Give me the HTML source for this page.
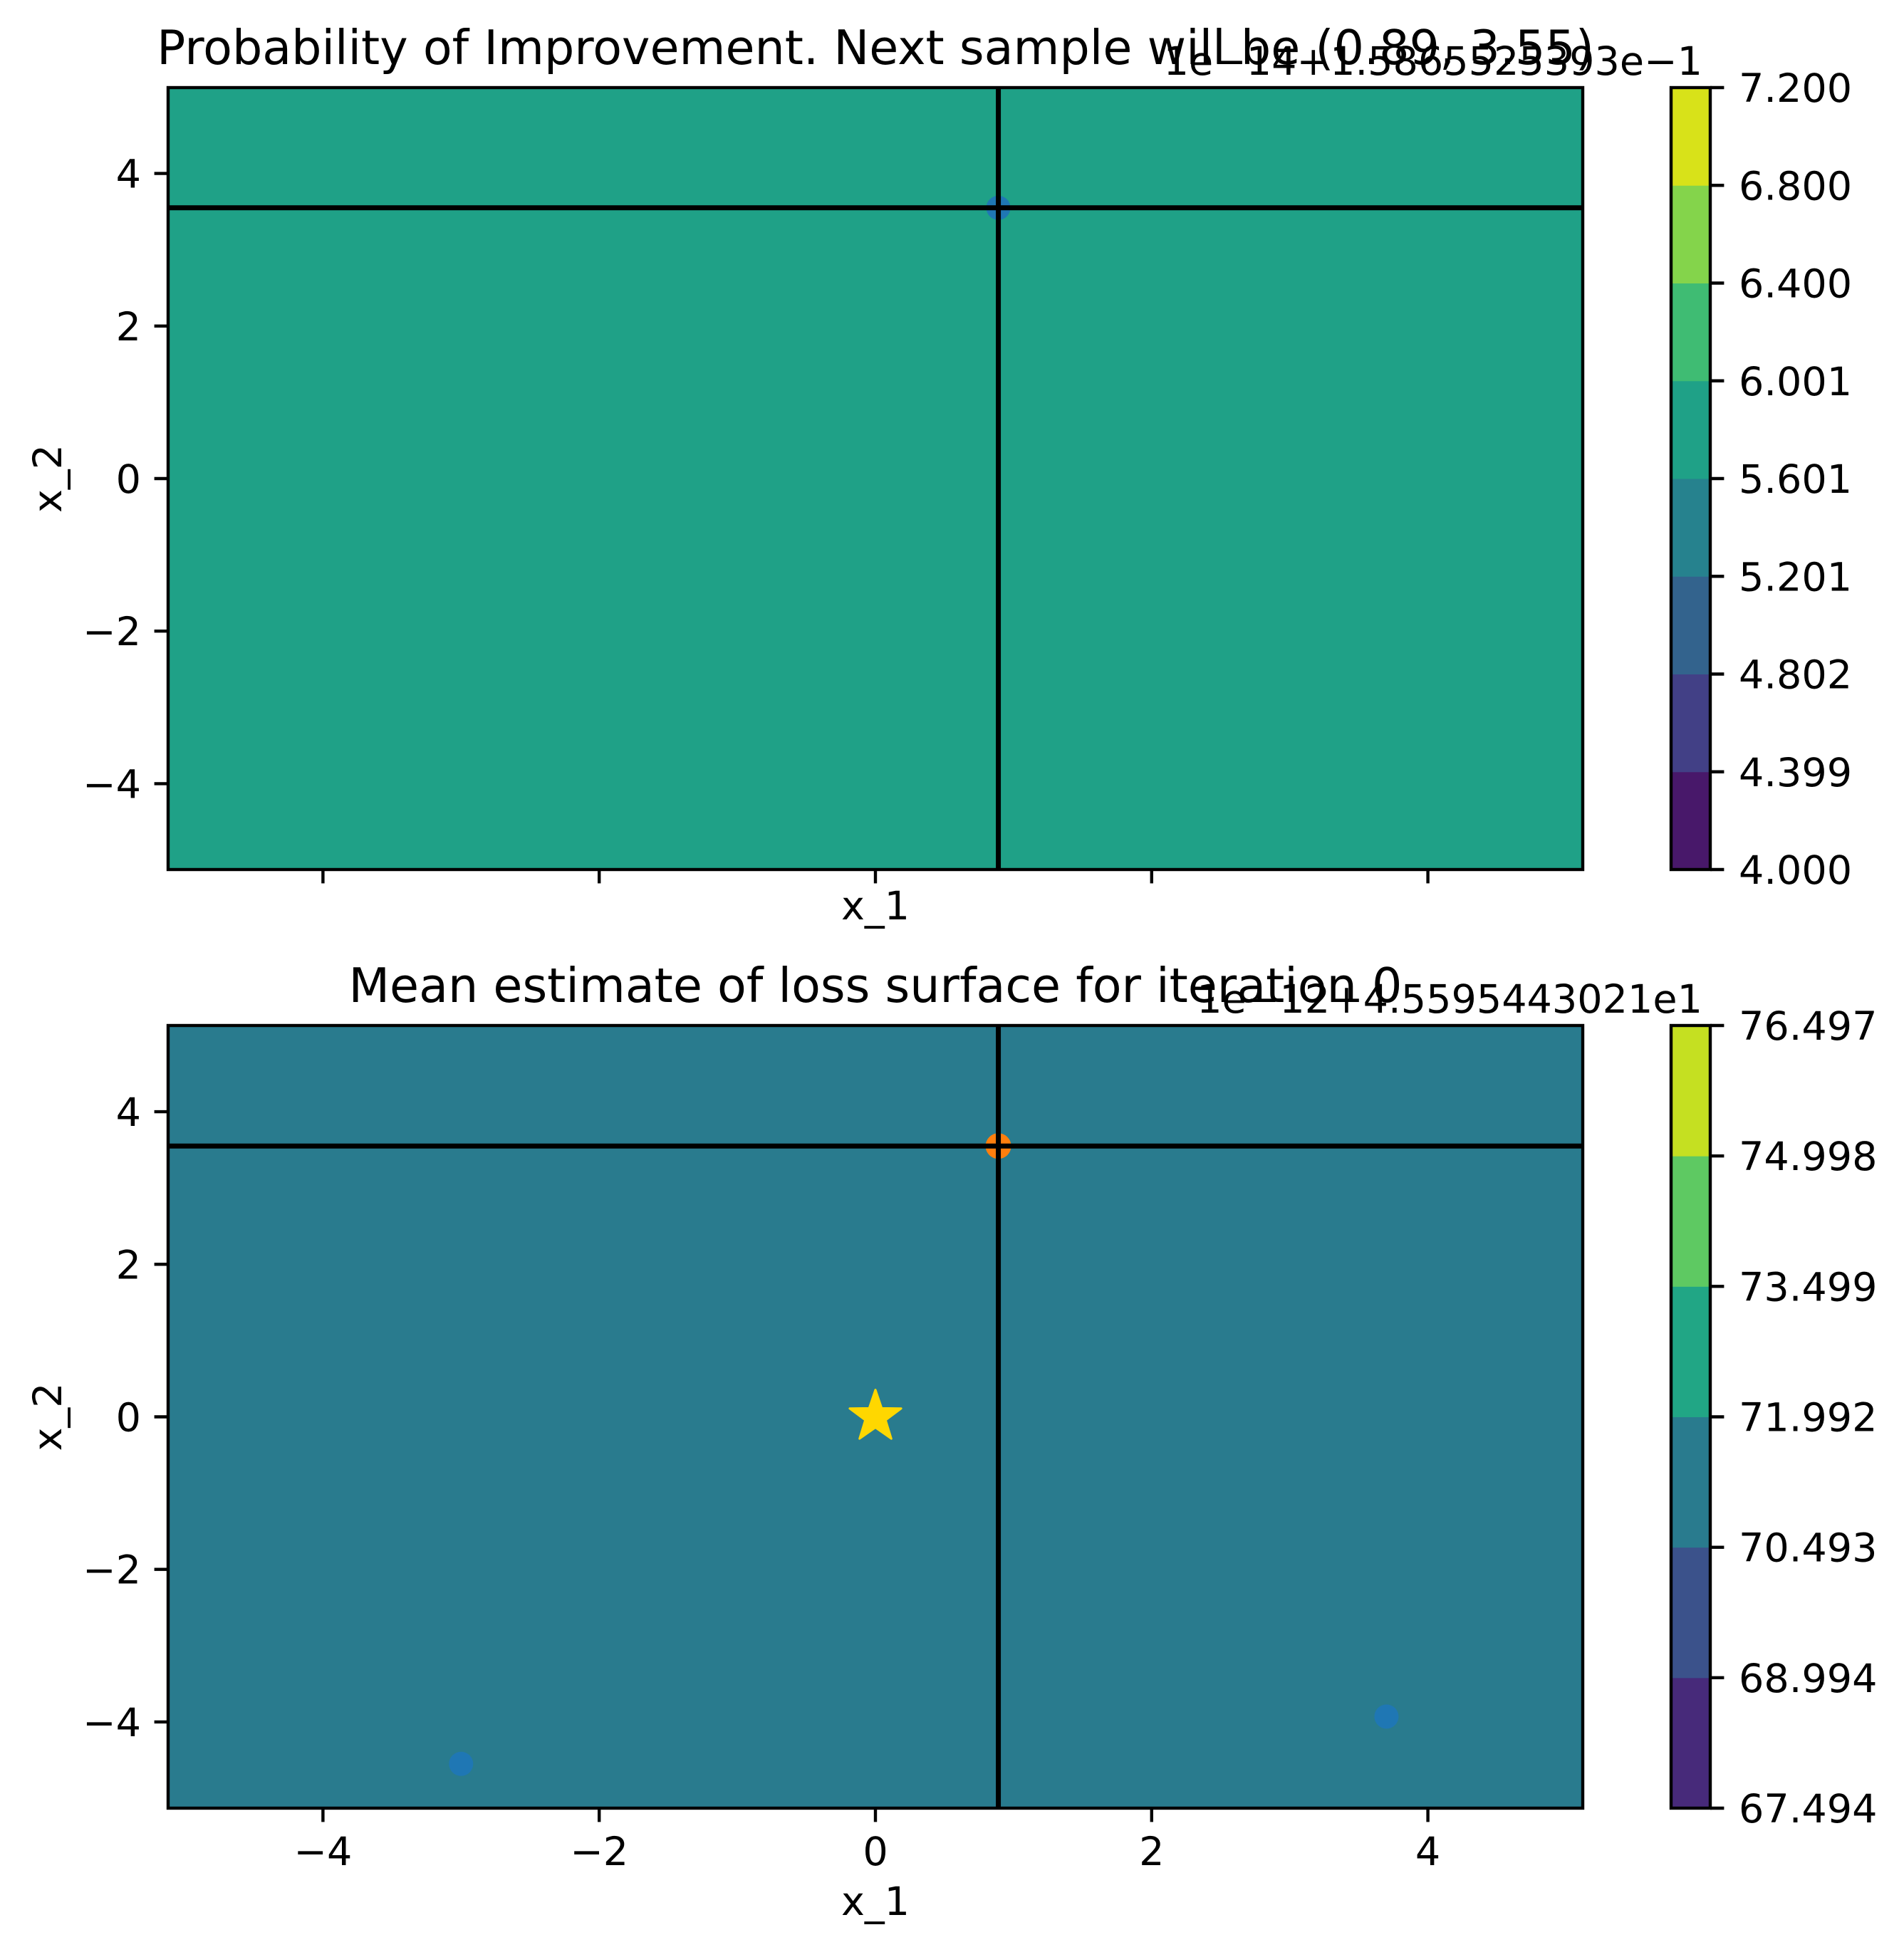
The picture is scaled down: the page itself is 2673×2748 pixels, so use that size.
<!DOCTYPE html>
<html><head><meta charset="utf-8"><style>
html,body{margin:0;padding:0;background:#fff;}
svg{display:block;font-family:"DejaVu Sans","Liberation Sans",sans-serif;}
</style></head><body>
<svg id="fig" width="2673" height="2748" viewBox="0 0 2673 2748" xmlns="http://www.w3.org/2000/svg"></svg>
<script>
const xTicks=[-4,-2,0,2,4];
const yTicks=[-4,-2,0,2,4];
const topLevels=["4.000","4.399","4.802","5.201","5.601","6.001","6.400","6.800","7.200"];
const topColors=["#48186a","#424086","#33638d","#26828e","#1fa187","#3fbc73","#84d44b","#d8e219"];
const topFillBand=4;
const botLevels=["67.494","68.994","70.493","71.992","73.499","74.998","76.497"];
const botColors=["#472a7a","#3b528b","#297b8e","#21a685","#5ec962","#c5e021"];
const botFillBand=2;
const nextX=[0.89];
const nextY=[3.55];
const sampleX=[-3.0,3.70];
const sampleY=[-4.55,-3.93];
const starX=[0];
const starY=[0];

const NS="http://www.w3.org/2000/svg";
const svg=document.getElementById('fig');
function mk(tag,attrs,parent,text){const e=document.createElementNS(NS,tag);for(const k in attrs)e.setAttribute(k,attrs[k]);if(text!==undefined)e.textContent=text;(parent||svg).appendChild(e);return e;}
const L=236,R=2222,X0=1229,SX=193.9,SY=107.1;
const FS=55.6;
function sx(v){return X0+v*SX;}

function panel(top,bot,title,offset,levels,colors,fillBand,showXLabels,name){
  const g=mk('g',{});
  
  
  const cy=(top+bot)/2;
  const sy=v=>cy-v*SY;
  const bg=mk('rect',{x:L,y:top,width:R-L,height:bot-top,fill:colors[fillBand]},g);
  
  
  const vl=mk('line',{x1:sx(nextX[0]),x2:sx(nextX[0]),y1:top,y2:bot,stroke:'#000','stroke-width':7},g);
  
  
  const hl=mk('line',{x1:L,x2:R,y1:sy(nextY[0]),y2:sy(nextY[0]),stroke:'#000','stroke-width':7},g);
  
  
  if(name==='top-panel'){
    const p=mk('circle',{cx:sx(nextX[0]),cy:sy(nextY[0]),r:17,fill:'#1f77b4'},g);
    
    
    g.appendChild(vl);g.appendChild(hl);
  } else {
    for(let i=0;i<sampleX.length;i++){
      const p=mk('circle',{cx:sx(sampleX[i]),cy:sy(sampleY[i]),r:17,fill:'#1f77b4'},g);
      
      
    }
    const o=mk('circle',{cx:sx(nextX[0]),cy:sy(nextY[0]),r:18,fill:'#ff7f0e'},g);
    
    
    g.appendChild(vl);g.appendChild(hl);
    let pts=[];const cxs=sx(starX[0]),cys=sy(starY[0]);
    for(let k=0;k<10;k++){const r=k%2?15:38;const a=-Math.PI/2+k*Math.PI/5;pts.push((cxs+r*Math.cos(a)).toFixed(1)+','+(cys+r*Math.sin(a)).toFixed(1));}
    const st=mk('polygon',{points:pts.join(' '),fill:'#ffd700',stroke:'#ffd700','stroke-width':3,'stroke-linejoin':'round'},g);
    
    
  }
  const fr=mk('rect',{x:L,y:top,width:R-L,height:bot-top,fill:'none',stroke:'#000','stroke-width':4.4},g);
  
  
  for(const t of xTicks){
    const tl=mk('line',{x1:sx(t),x2:sx(t),y1:bot,y2:bot+19.4,stroke:'#000','stroke-width':4.4},g);
    
    
    if(showXLabels){
      const tx=mk('text',{x:sx(t),y:bot+80,'font-size':FS,'text-anchor':'middle'},g,(t<0?'\u2212':'')+Math.abs(t));
      
      
    }
  }
  for(const t of yTicks){
    const tl=mk('line',{x1:L-19.4,x2:L,y1:sy(t),y2:sy(t),stroke:'#000','stroke-width':4.4},g);
    
    
    const tx=mk('text',{x:L-38,y:sy(t)+20,'font-size':FS,'text-anchor':'end'},g,(t<0?'\u2212':'')+Math.abs(t));
    
    
  }
  const xl=mk('text',{x:X0,y:showXLabels?bot+150:bot+70,'font-size':FS,'text-anchor':'middle'},g,'x_1');
  
  
  const yl=mk('text',{x:0,y:0,'font-size':FS,'text-anchor':'middle',transform:`translate(86,${cy}) rotate(-90)`},g,'x_2');
  
  
  const ti=mk('text',{x:X0,y:top-33,'font-size':66.7,'text-anchor':'middle'},g,title);
  
  
  const of=mk('text',{x:2390,y:top-18,'font-size':FS,'text-anchor':'end'},g,offset);
  
  
  const CL=2346,CR=2401,n=colors.length,bh=(bot-top)/n;
  for(let i=0;i<n;i++){
    const r=mk('rect',{x:CL,y:bot-(i+1)*bh,width:CR-CL,height:bh+0.5,fill:colors[i]},g);
    
    
  }
  const cf=mk('rect',{x:CL,y:top,width:CR-CL,height:bot-top,fill:'none',stroke:'#000','stroke-width':4.4},g);
  
  
  for(let i=0;i<levels.length;i++){
    const y=bot-i*(bot-top)/(levels.length-1);
    const tl=mk('line',{x1:CR,x2:CR+19.4,y1:y,y2:y,stroke:'#000','stroke-width':4.4},g);
    
    
    const tx=mk('text',{x:2441,y:y+20,'font-size':FS},g,levels[i]);
    
    
  }
}
panel(123,1221,'Probability of Improvement. Next sample will be (0.89, 3.55)','1e\u221214+1.5865525393e\u22121',topLevels,topColors,topFillBand,false,'top-panel');
panel(1440,2539,'Mean estimate of loss surface for iteration 0','1e\u221212+4.5595443021e1',botLevels,botColors,botFillBand,true,'bottom-panel');
</script>
</body></html>
